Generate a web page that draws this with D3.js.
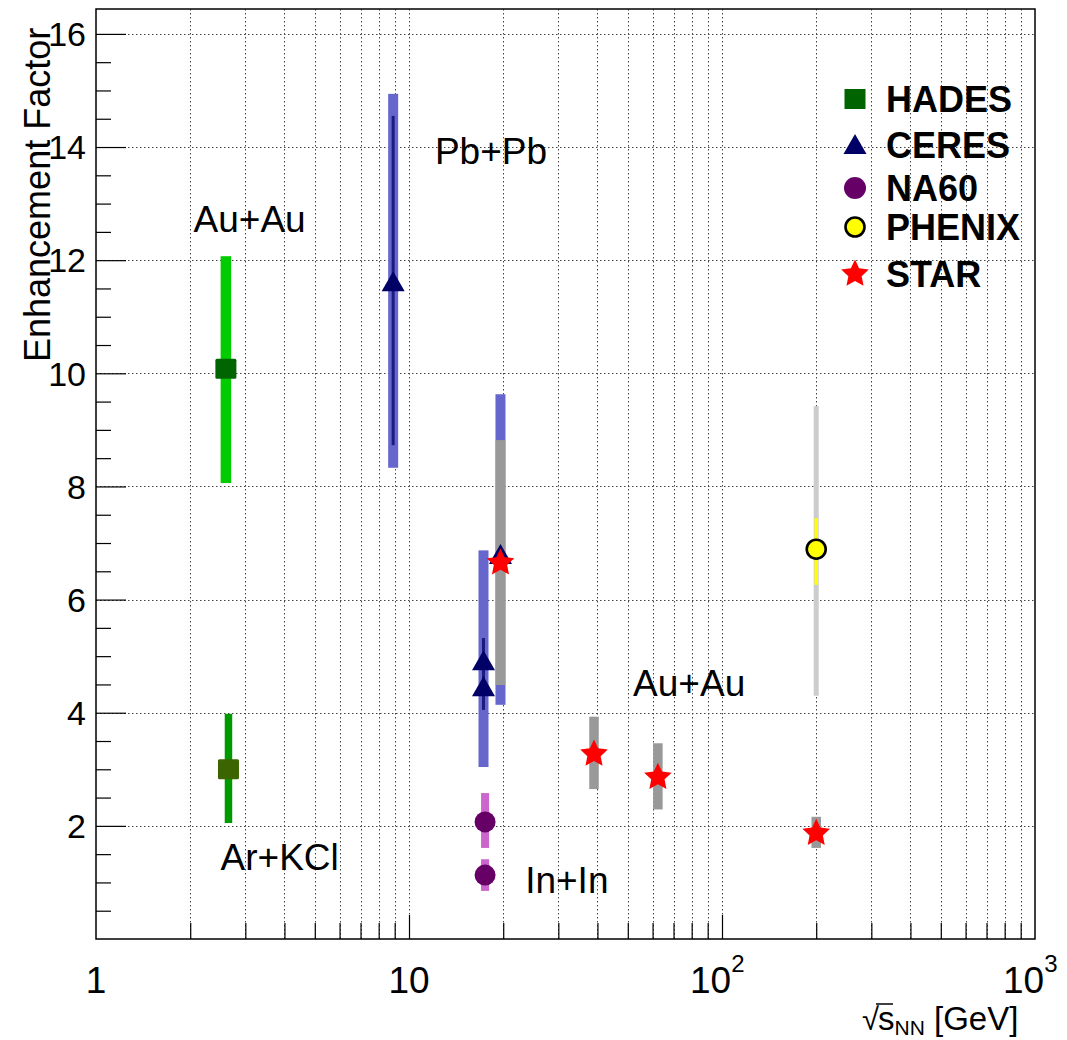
<!DOCTYPE html>
<html>
<head>
<meta charset="utf-8">
<script src="https://cdn.jsdelivr.net/npm/d3@7"></script>
<style>
  html, body { margin: 0; padding: 0; background: #fff; }
  svg { display: block; font-family: "Liberation Sans", Arial, Helvetica, sans-serif; }
</style>
</head>
<body>
<svg id="chart" width="1067" height="1040"></svg>
<script>
// ---- data: enhancement factor vs collision energy ----
// HADES (Au+Au, Ar+KCl)
const hadesSqrtS    = [2.60, 2.65];
const hadesFactor   = [10.08, 3.00];
const hadesSysLow   = [8.06, 2.05];
const hadesSysHigh  = [12.07, 3.98];

// CERES (Pb+Pb)
const ceresSqrtS    = [8.9, 17.3, 17.3, 19.6];
const ceresFactor   = [11.61, 4.91, 4.45, 6.79];
const ceresStatLow  = [8.73, 4.45, 4.05, null];
const ceresStatHigh = [14.55, 5.32, 4.91, null];
const ceresSysLow   = [8.33, 3.04, null, 4.14];
const ceresSysHigh  = [14.94, 6.87, null, 9.63];

// NA60 (In+In)
const na60SqrtS     = [17.5, 17.5];
const na60Factor    = [2.07, 1.13];
const na60SysLow    = [1.61, 0.85];
const na60SysHigh   = [2.58, 1.41];

// PHENIX (Au+Au 200 GeV)
const phenixSqrtS    = [200];
const phenixFactor   = [6.89];
const phenixStatLow  = [6.26];
const phenixStatHigh = [7.44];
const phenixSysLow   = [4.30];
const phenixSysHigh  = [9.42];

// STAR (Au+Au beam energy scan)
const starSqrtS     = [19.6, 39, 62.4, 200];
const starFactor    = [6.65, 3.27, 2.86, 1.87];
const starSysLow    = [4.49, 2.65, 2.29, 1.61];
const starSysHigh   = [8.82, 3.93, 3.46, 2.16];

// legend and axis labels
const legendNames   = ["HADES", "CERES", "NA60", "PHENIX", "STAR"];
const yTickValues   = [2, 4, 6, 8, 10, 12, 14, 16];
const xTickValues   = [1, 10, 100, 1000];
const systemLabels  = [
  { text: "Au+Au",  sqrtS: 2.05, factor: 12.5 },
  { text: "Pb+Pb",  sqrtS: 12.1, factor: 13.7 },
  { text: "Ar+KCl", sqrtS: 2.5,  factor: 1.22 },
  { text: "In+In",  sqrtS: 23.5, factor: 0.81 },
  { text: "Au+Au",  sqrtS: 52,   factor: 4.3 }
];

// ---- layout ----
const svg = d3.select("#chart");
const frame = { left: 96, right: 1035, top: 9, bottom: 939 };

const x = d3.scaleLog().domain([1, 1000]).range([frame.left, frame.right]);
const y = d3.scaleLinear().domain([0, 16.44]).range([frame.bottom, frame.top]);

svg.append("rect").attr("width", 1067).attr("height", 1040).attr("fill", "#fff");

// ---- grid ----
const xGridValues = [];
for (let d = 1; d < 1000; d *= 10) {
  for (let m = 1; m <= 9; m++) xGridValues.push(d * m);
}
const gridX = xGridValues.filter(v => v > 1);
const grid = svg.append("g").attr("class", "grid")
  .attr("stroke", "#444").attr("stroke-width", 1)
  .attr("stroke-dasharray", "1.5,2.5");
grid.selectAll("line.gx").data(gridX).join("line")
  .attr("class", "gx")
  .attr("x1", d => Math.round(x(d)) + 0.5).attr("x2", d => Math.round(x(d)) + 0.5)
  .attr("y1", frame.top).attr("y2", frame.bottom);
grid.selectAll("line.gy").data(yTickValues).join("line")
  .attr("class", "gy")
  .attr("x1", frame.left).attr("x2", frame.right)
  .attr("y1", d => Math.round(y(d)) + 0.5).attr("y2", d => Math.round(y(d)) + 0.5);

// ---- axes ----
const yMinor = d3.range(0.5, 16.44, 0.5).filter(v => v % 2 !== 0);
const yAxis = d3.axisLeft(y).tickValues(yTickValues).tickSize(-30).tickFormat("");
const yAxisMinor = d3.axisLeft(y).tickValues(yMinor).tickSize(-15).tickFormat("");
svg.append("g").attr("transform", `translate(${frame.left},0)`).call(yAxis)
  .call(g => g.select(".domain").remove());
svg.append("g").attr("transform", `translate(${frame.left},0)`).call(yAxisMinor)
  .call(g => g.select(".domain").remove());

const xMinor = xGridValues.filter(v => ![1, 10, 100].includes(v));
const xAxisMajor = d3.axisBottom(x).tickValues([10, 100]).tickSize(-24).tickFormat("");
const xAxisMinor = d3.axisBottom(x).tickValues(xMinor).tickSize(-16).tickFormat("");
svg.append("g").attr("transform", `translate(0,${frame.bottom})`).call(xAxisMajor)
  .call(g => g.select(".domain").remove());
svg.append("g").attr("transform", `translate(0,${frame.bottom})`).call(xAxisMinor)
  .call(g => g.select(".domain").remove());

svg.selectAll(".tick line").attr("stroke", "#000").attr("stroke-width", 1.2);

// frame
svg.append("rect")
  .attr("x", frame.left).attr("y", frame.top)
  .attr("width", frame.right - frame.left).attr("height", frame.bottom - frame.top)
  .attr("fill", "none").attr("stroke", "#000").attr("stroke-width", 1.5);

// y tick labels
svg.append("g").selectAll("text").data(yTickValues).join("text")
  .attr("x", 86).attr("y", d => y(d)).attr("dy", "0.36em")
  .attr("text-anchor", "end").attr("font-size", 34).attr("fill", "#000")
  .text(d => d);

// x tick labels (powers of ten)
const xLab = svg.append("g");
xTickValues.forEach(v => {
  const e = Math.round(Math.log10(v));
  const t = xLab.append("text")
    .attr("y", 993).attr("font-size", 37).attr("fill", "#000");
  if (e <= 1) {
    t.attr("x", x(v)).attr("text-anchor", "middle").text(v);
  } else {
    t.attr("x", x(v) - 32);
    t.append("tspan").text("10");
    t.append("tspan").attr("font-size", 24).attr("dy", -21).text(e);
  }
});

// axis titles
svg.append("text")
  .attr("transform", "translate(50,362) rotate(-90)")
  .attr("font-size", 36).attr("fill", "#000")
  .attr("text-anchor", "start")
  .text("Enhancement Factor");

const xt = svg.append("g").attr("transform", "translate(862,1030)");
const xtText = xt.append("text").attr("font-size", 33).attr("fill", "#000");
xtText.append("tspan").text("\u221A").attr("font-size", 31);
xtText.append("tspan").text("s").attr("dx", -1);
xtText.append("tspan").text("NN").attr("font-size", 21).attr("dy", 5);
xtText.append("tspan").text(" [GeV]").attr("dy", -5);
// radical overline above the "s"
xt.append("line").attr("x1", 14).attr("x2", 31).attr("y1", -26).attr("y2", -26)
  .attr("stroke", "#000").attr("stroke-width", 1.5);

// ---- marks ----
const plot = svg.append("g");

function vbar(xs, lo, hi, width, color, cls) {
  const rows = xs.map((s, i) => ({ s, lo: lo[i], hi: hi[i] })).filter(d => d.lo != null);
  plot.selectAll("rect." + cls).data(rows).join("rect")
    .attr("class", cls)
    .attr("x", d => x(d.s) - width / 2).attr("width", width)
    .attr("y", d => y(d.hi)).attr("height", d => y(d.lo) - y(d.hi))
    .attr("fill", color);
}

// systematic bands
vbar(hadesSqrtS.slice(0, 1), hadesSysLow.slice(0, 1), hadesSysHigh.slice(0, 1), 10.5, "#00cc00", "hsys0");
vbar(hadesSqrtS.slice(1), hadesSysLow.slice(1), hadesSysHigh.slice(1), 7.5, "#009900", "hsys1");
vbar(ceresSqrtS, ceresSysLow, ceresSysHigh, 10, "#6666cc", "csys");
vbar(na60SqrtS, na60SysLow, na60SysHigh, 8, "#cc66cc", "nsys");
vbar(phenixSqrtS, phenixSysLow, phenixSysHigh, 5, "#cccccc", "psys");
vbar(starSqrtS, starSysLow, starSysHigh, 9.5, "#999999", "ssys");

// statistical bars
vbar(ceresSqrtS, ceresStatLow, ceresStatHigh, 3, "#1a1a80", "cstat");
vbar(phenixSqrtS, phenixStatLow, phenixStatHigh, 3.5, "#ffff00", "pstat");

// marker shapes
const triPath = "M0,-11 L11.5,9 L-11.5,9 Z";
function starPath(rOuter, rInner) {
  const p = d3.path();
  for (let k = 0; k < 10; k++) {
    const r = k % 2 ? rInner : rOuter;
    const a = -Math.PI / 2 + k * Math.PI / 5;
    if (k === 0) p.moveTo(r * Math.cos(a), r * Math.sin(a));
    else p.lineTo(r * Math.cos(a), r * Math.sin(a));
  }
  p.closePath();
  return p.toString();
}
const starShape = starPath(14.5, 7);

function squares(xs, vs, colors) {
  plot.selectAll("rect.hm").data(xs.map((s, i) => ({ s, v: vs[i], c: colors[i] }))).join("rect")
    .attr("class", "hm")
    .attr("x", d => x(d.s) - 10.5).attr("y", d => y(d.v) - 10)
    .attr("width", 21).attr("height", 20).attr("rx", 1.5)
    .attr("fill", d => d.c);
}
squares(hadesSqrtS, hadesFactor, ["#006400", "#3c6400"]);

plot.selectAll("path.cm").data(ceresSqrtS.map((s, i) => ({ s, v: ceresFactor[i] }))).join("path")
  .attr("class", "cm")
  .attr("transform", d => `translate(${x(d.s)},${y(d.v)})`)
  .attr("d", triPath).attr("fill", "#000066");

plot.selectAll("circle.nm").data(na60SqrtS.map((s, i) => ({ s, v: na60Factor[i] }))).join("circle")
  .attr("class", "nm")
  .attr("cx", d => x(d.s)).attr("cy", d => y(d.v)).attr("r", 10.5)
  .attr("fill", "#660066");

plot.selectAll("circle.pm").data(phenixSqrtS.map((s, i) => ({ s, v: phenixFactor[i] }))).join("circle")
  .attr("class", "pm")
  .attr("cx", d => x(d.s)).attr("cy", d => y(d.v)).attr("r", 9.5)
  .attr("fill", "#ffff00").attr("stroke", "#000").attr("stroke-width", 2.6);

plot.selectAll("path.sm").data(starSqrtS.map((s, i) => ({ s, v: starFactor[i] }))).join("path")
  .attr("class", "sm")
  .attr("transform", d => `translate(${x(d.s)},${y(d.v)})`)
  .attr("d", starShape).attr("fill", "#ff0000");

// collision system labels
svg.append("g").selectAll("text").data(systemLabels).join("text")
  .attr("x", d => x(d.sqrtS)).attr("y", d => y(d.factor))
  .attr("font-size", 37).attr("fill", "#000")
  .text(d => d.text);

// ---- legend ----
const legend = svg.append("g").attr("transform", "translate(855,0)");
const legendY = [99, 145, 188, 227, 274];
legendNames.forEach((name, i) => {
  const g = legend.append("g").attr("transform", `translate(0,${legendY[i]})`);
  if (name === "HADES") {
    g.append("rect").attr("x", -10.5).attr("y", -10).attr("width", 21).attr("height", 20).attr("fill", "#006400");
  } else if (name === "CERES") {
    g.append("path").attr("d", triPath).attr("fill", "#000066");
  } else if (name === "NA60") {
    g.append("circle").attr("r", 11).attr("fill", "#660066");
  } else if (name === "PHENIX") {
    g.append("circle").attr("r", 9.5).attr("fill", "#ffff00").attr("stroke", "#000").attr("stroke-width", 2.6);
  } else {
    g.append("path").attr("d", starShape).attr("fill", "#ff0000");
  }
  g.append("text").attr("x", 31).attr("y", 13)
    .attr("font-size", 36).attr("font-weight", "bold").attr("fill", "#000")
    .text(name);
});
</script>
</body>
</html>
